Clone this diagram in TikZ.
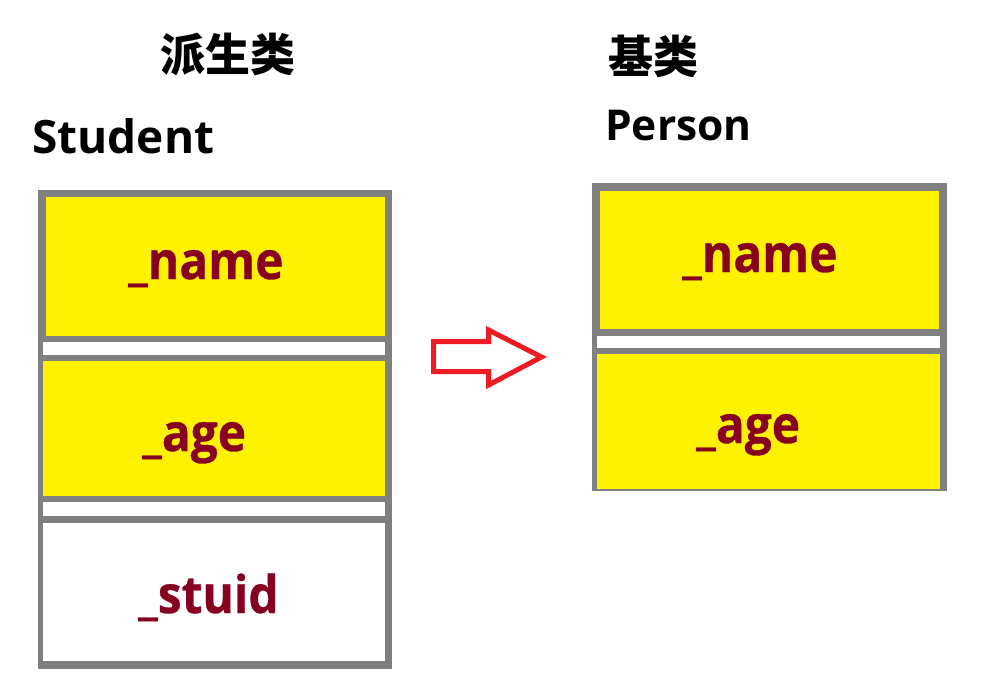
\documentclass[tikz,border=0pt]{standalone}
\usepackage{fontspec}
\newfontfamily\lat{Open Sans}
\newfontfamily\latn{Open Sans}[FakeStretch=0.92,FakeBold=0.6]
\newfontfamily\cjk{Noto Sans CJK SC}
\definecolor{boxgray}{RGB}{128,128,128}
\definecolor{yel}{RGB}{255,242,0}
\definecolor{lblred}{RGB}{135,0,32}
\definecolor{arrred}{RGB}{237,28,36}
\tikzset{
  title/.style={inner sep=0pt, font=\cjk\bfseries\fontsize{45}{50}\selectfont},
  cls/.style={inner sep=0pt, anchor=base west, font=\lat\bfseries\fontsize{#1}{48}\selectfont},
  lbl/.style={inner sep=0pt, anchor=base west, text=lblred, font=\latn\bfseries\fontsize{52}{56}\selectfont},
  frame/.style={fill=boxgray},
  ycell/.style={fill=yel},
  wcell/.style={fill=white},
  bigarrow/.style={draw=arrred, line width=5pt, line join=miter}
}
\begin{document}
\begin{tikzpicture}[x=1pt,y=-1pt]
\useasboundingbox (0,0) rectangle (981,691);
% left box (Student)
\fill[frame] (38,190) rectangle (392,669);
\fill[ycell] (46,197) rectangle (385,336);
\fill[wcell] (43,342) rectangle (385,355);
\fill[ycell] (43,361) rectangle (385,496);
\fill[wcell] (43,502) rectangle (385,516);
\fill[wcell] (43,523) rectangle (385,661);
% right box (Person)
\fill[frame] (592,183) rectangle (947,491);
\fill[ycell] (600,191) rectangle (939,329);
\fill[wcell] (597,336) rectangle (940,348);
\fill[ycell] (597,354) rectangle (940,489);
% titles
\node[title] (t1) at (228,55) {派生类};
\node[title] (t2) at (653.5,56) {基类};
\node[cls=46] (c1) at (32,153) {Student};
\node[cls=42.5] (c2) at (605,140) {Person};
% labels
\node[lbl] (l1) at (128,279) {\_name};
\node[lbl] (l2) at (142,451) {\_age};
\node[lbl] (l3) at (138,613) {\_stuid};
\node[lbl] (r1) at (682,272) {\_name};
\node[lbl] (r2) at (696,443) {\_age};
% arrow
\draw[bigarrow] (433.5,341.5) -- (488.5,341.5) -- (488.5,330) -- (541.5,357) -- (488.5,385) -- (488.5,371.5) -- (433.5,371.5) -- cycle;
\end{tikzpicture}
\end{document}
